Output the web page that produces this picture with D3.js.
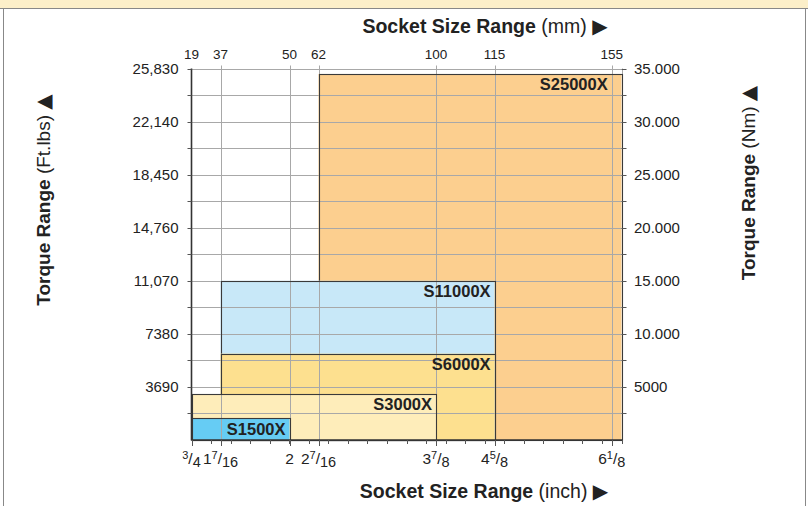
<!DOCTYPE html>
<html><head><meta charset="utf-8">
<script src="https://cdn.jsdelivr.net/npm/d3@7/dist/d3.min.js"></script>
<style>
html,body{margin:0;padding:0;background:#fff;}
svg{display:block;font-family:"Liberation Sans",Arial,Helvetica,sans-serif;}
</style></head>
<body>
<svg id="c" width="808" height="506"></svg>
<script>
// ---- data ----
const inchTicks  = [0.75, 1.4375, 2, 2.4375, 3.875, 4.625, 6.125];
const inchLabels = ["3/4", "1 7/16", "2", "2 7/16", "3 7/8", "4 5/8", "6 1/8"];
const mmLabels   = ["19", "37", "50", "62", "100", "115", "155"];
const ftTicks    = [3690, 7380, 11070, 14760, 18450, 22140, 25830];
const ftLabels   = ["3690", "7380", "11,070", "14,760", "18,450", "22,140", "25,830"];
const nmTicks    = [5000, 10000, 15000, 20000, 25000, 30000, 35000];
const nmLabels   = ["5000", "10.000", "15.000", "20.000", "25.000", "30.000", "35.000"];
const models     = ["S25000X", "S11000X", "S6000X", "S3000X", "S1500X"];
const minInch    = [2.4375, 1.4375, 1.4375, 0.75, 0.75];
const maxInch    = [6.25, 4.625, 4.625, 3.875, 2];
const maxTorque  = [25450, 11070, 6000, 3200, 1500];
const labelInch  = [6.125, 4.625, 4.625, 3.875, 2];
const fills      = ["#FCCF8F", "#C8E8F8", "#FDE08F", "#FEEDBA", "#66CCF4"];

// ---- layout ----
const L = 191.5, R = 621.5, T = 68.5, B = 440;
const svg = d3.select("#c");
const defs = svg.append("defs");

// piecewise x scale (follows the drawn tick positions of the reference)
const x = d3.scaleLinear()
  .domain([0.75, 1.4375, 2, 2.4375, 3.875, 6.25])
  .range([L, L + 29, L + 98, L + 127, L + 244.5, R]);
const xMinor = d3.scaleLinear().domain([0.75, 6.25]).range([L, R]);
const y  = d3.scaleLinear().domain([0, 25830]).range([B, T]);
const yN = d3.scaleLinear().domain([0, 35000]).range([B, T]);
const px = v => Math.round(v) + 0.5;

// page frame (cut from a larger sheet)
svg.append("rect").attr("x",0).attr("y",0).attr("width",808).attr("height",8).attr("fill","#FCEFC9");
svg.append("line").attr("x1",0).attr("x2",808).attr("y1",8.5).attr("y2",8.5).attr("stroke","#888");
svg.append("line").attr("x1",3.5).attr("x2",3.5).attr("y1",8).attr("y2",506).attr("stroke","#888");
svg.append("line").attr("x1",805.5).attr("x2",805.5).attr("y1",8).attr("y2",506).attr("stroke","#888");

const halfTicks = d3.range(0, 25830 + 1, 1845);
function drawGrid(g) {
  g.attr("stroke", "#a8a8a8").attr("stroke-width", 1);
  g.selectAll("line.h").data(halfTicks).join("line").attr("class","h")
    .attr("x1", L).attr("x2", R)
    .attr("y1", d => px(y(d))).attr("y2", d => px(y(d)));
  g.selectAll("line.v").data(inchTicks.slice(1)).join("line").attr("class","v")
    .attr("x1", d => px(x(d))).attr("x2", d => px(x(d)))
    .attr("y1", T - 3).attr("y2", B);
}
drawGrid(svg.append("g"));
svg.append("line").attr("x1", px(R)).attr("x2", px(R)).attr("y1", T).attr("y2", B).attr("stroke", "#a8a8a8");

// boxes, painted in order: fill, grid on top of fill, outline
models.forEach((m, i) => {
  const bx = x(minInch[i]), bw = x(maxInch[i]) - x(minInch[i]);
  const by = y(maxTorque[i]), bh = y(0) - y(maxTorque[i]);
  defs.append("clipPath").attr("id", "clip" + i).append("rect")
    .attr("x", bx).attr("y", by).attr("width", bw).attr("height", bh);
  svg.append("rect").attr("x", bx).attr("y", by).attr("width", bw).attr("height", bh)
    .attr("fill", fills[i]);
  drawGrid(svg.append("g").attr("clip-path", "url(#clip" + i + ")"));
  svg.append("rect")
    .attr("x", px(bx)).attr("y", px(by))
    .attr("width", Math.round(x(maxInch[i])) - Math.round(bx))
    .attr("height", Math.round(y(0)) - Math.round(by))
    .attr("fill", "none").attr("stroke", "#3a3a3a").attr("stroke-width", 1.1);
});

// box labels
const idx = d3.range(models.length);
svg.append("g").selectAll("text").data(idx).join("text")
  .attr("x", i => x(labelInch[i]) - 4)
  .attr("y", i => y(maxTorque[i]) + 16.5)
  .attr("text-anchor", "end")
  .attr("font-weight", "bold").attr("font-size", 16.5).attr("fill", "#222")
  .text(i => models[i]);

// axes lines
svg.append("line").attr("x1", L).attr("x2", L).attr("y1", T).attr("y2", B + 0.5)
  .attr("stroke", "#333").attr("stroke-width", 1.6);
svg.append("line").attr("x1", L).attr("x2", R + 1).attr("y1", B).attr("y2", B)
  .attr("stroke", "#333").attr("stroke-width", 1.6);

// ticks
const tk = svg.append("g").attr("stroke", "#555").attr("stroke-width", 1);
tk.selectAll("line.l").data(halfTicks.slice(1)).join("line").attr("class","l")
  .attr("x1", L - 4).attr("x2", L)
  .attr("y1", d => px(y(d))).attr("y2", d => px(y(d)));
tk.selectAll("line.r").data(halfTicks.slice(1)).join("line").attr("class","r")
  .attr("x1", R).attr("x2", R + 5)
  .attr("y1", d => px(y(d))).attr("y2", d => px(y(d)));
tk.selectAll("line.bm").data(d3.range(0.75, 6.2501, 0.25)).join("line").attr("class","bm")
  .attr("x1", d => px(xMinor(d))).attr("x2", d => px(xMinor(d)))
  .attr("y1", B).attr("y2", B + 4);
tk.selectAll("line.bM").data(inchTicks).join("line").attr("class","bM")
  .attr("x1", d => px(x(d))).attr("x2", d => px(x(d)))
  .attr("y1", B).attr("y2", B + 6);

// left labels
svg.append("g").selectAll("text").data(ftTicks).join("text")
  .attr("x", L - 13).attr("y", d => y(d)).attr("dy", "0.36em")
  .attr("text-anchor", "end").attr("font-size", 15).attr("fill", "#222")
  .text((d, i) => ftLabels[i]);
// right labels
svg.append("g").selectAll("text").data(nmTicks).join("text")
  .attr("x", R + 12.5).attr("y", d => yN(d)).attr("dy", "0.36em")
  .attr("text-anchor", "start").attr("font-size", 15).attr("fill", "#222")
  .text((d, i) => nmLabels[i]);
// top mm labels
svg.append("g").selectAll("text").data(inchTicks).join("text")
  .attr("x", d => x(d)).attr("y", 59)
  .attr("text-anchor", "middle").attr("font-size", 13.5).attr("fill", "#222")
  .text((d, i) => mmLabels[i]);

// bottom fraction labels
const bl = svg.append("g").attr("fill", "#222");
inchTicks.forEach((d, i) => {
  const parts = inchLabels[i].split(" ");
  let whole = "", num = "", den = "";
  parts.forEach(p => { if (p.includes("/")) { [num, den] = p.split("/"); } else whole = p; });
  const t = bl.append("text").attr("x", x(d)).attr("y", 464)
    .attr("text-anchor", "middle").attr("font-size", 15.5);
  if (whole) t.append("tspan").text(whole);
  if (num) {
    t.append("tspan").attr("font-size", 11).attr("dy", -5).text(num);
    t.append("tspan").attr("dy", 5).text("/");
    t.append("tspan").attr("font-size", 14.5).attr("dy", 3).text(den);
  }
});

// titles
function title(g, main, unit) {
  g.append("tspan").attr("font-weight", "bold").text(main);
  g.append("tspan").text(" (" + unit + ") ");
}
const tTop = svg.append("text").attr("x", 485).attr("y", 33).attr("text-anchor", "middle")
  .attr("font-size", 19.5).attr("fill", "#222");
title(tTop, "Socket Size Range", "mm");
tTop.append("tspan").attr("font-family", "DejaVu Sans").attr("font-size", 20).text("▶");

const tBot = svg.append("text").attr("x", 484).attr("y", 498).attr("text-anchor", "middle")
  .attr("font-size", 19.5).attr("fill", "#222");
title(tBot, "Socket Size Range", "inch");
tBot.append("tspan").attr("font-family", "DejaVu Sans").attr("font-size", 20).text("▶");

const tL = svg.append("text").attr("transform", "translate(50,200) rotate(-90)")
  .attr("text-anchor", "middle").attr("font-size", 19).attr("fill", "#222");
title(tL, "Torque Range", "Ft.lbs");
tL.append("tspan").attr("font-family", "DejaVu Sans").attr("font-size", 20).text("▲");

const tR = svg.append("text").attr("transform", "translate(755,183) rotate(-90)")
  .attr("text-anchor", "middle").attr("font-size", 19).attr("fill", "#222");
title(tR, "Torque Range", "Nm");
tR.append("tspan").attr("font-family", "DejaVu Sans").attr("font-size", 20).text("▲");
</script>
</body></html>
